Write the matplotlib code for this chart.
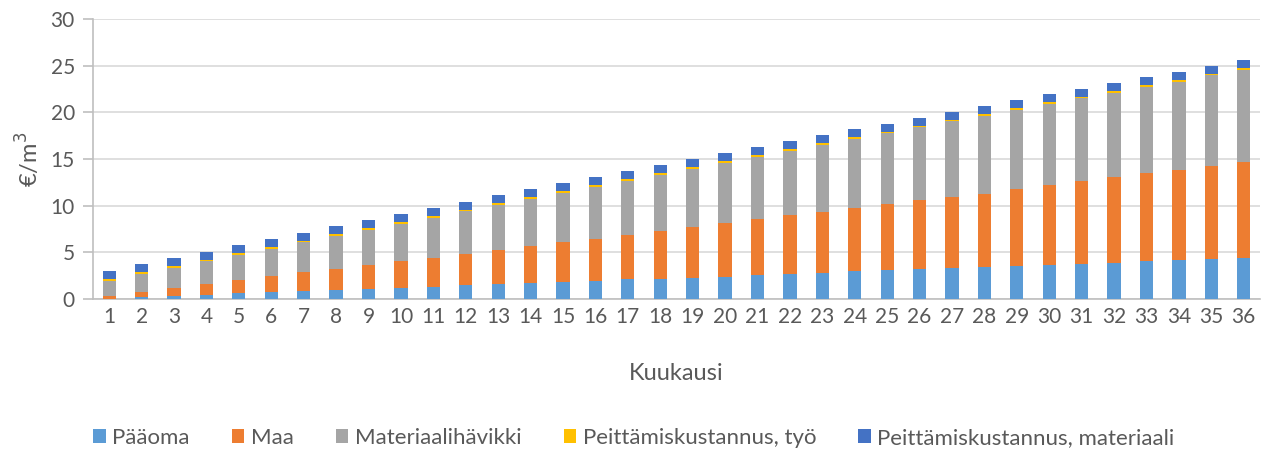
import numpy as np
import matplotlib
matplotlib.use("Agg")
import matplotlib.pyplot as plt

plt.rcParams['font.family'] = ['Lato', 'DejaVu Sans']

months = list(range(1, 37))

paaoma = [0.05, 0.25, 0.32, 0.43, 0.64, 0.75, 0.86, 0.96, 1.07, 1.21,
          1.29, 1.46, 1.57, 1.68, 1.82, 1.93, 2.11, 2.18, 2.25, 2.39,
          2.54, 2.68, 2.79, 2.96, 3.07, 3.18, 3.29, 3.39, 3.53, 3.64,
          3.78, 3.89, 4.04, 4.14, 4.29, 4.43]
maa = [0.27, 0.50, 0.82, 1.17, 1.36, 1.68, 2.00, 2.25, 2.54, 2.83,
       3.14, 3.40, 3.68, 3.96, 4.25, 4.53, 4.78, 5.14, 5.43, 5.71,
       6.00, 6.28, 6.57, 6.83, 7.11, 7.43, 7.67, 7.91, 8.22, 8.54,
       8.83, 9.15, 9.43, 9.72, 10.00, 10.25]
havikki = [1.63, 1.93, 2.22, 2.44, 2.70, 2.96, 3.21, 3.58, 3.82, 4.03,
           4.27, 4.54, 4.82, 5.06, 5.33, 5.54, 5.79, 5.98, 6.28, 6.50,
           6.71, 6.93, 7.18, 7.39, 7.57, 7.78, 8.08, 8.34, 8.54, 8.72,
           8.89, 9.06, 9.23, 9.44, 9.67, 9.86]
tyo = [0.18] * 36
materiaali = [0.86] * 36

series = [
    ("Pääoma", paaoma, "#5B9BD5"),
    ("Maa", maa, "#ED7D31"),
    ("Materiaalihävikki", havikki, "#A5A5A5"),
    ("Peittämiskustannus, työ", tyo, "#FFC000"),
    ("Peittämiskustannus, materiaali", materiaali, "#4472C4"),
]

txt = "#595959"

fig = plt.figure(figsize=(12.63, 4.53), dpi=100)
ax = fig.add_axes([0.0736, 0.34, 0.924, 0.618])

x = np.arange(len(months))
bottom = np.zeros(len(months))
for name, vals, col in series:
    ax.bar(x, vals, 0.41, bottom=bottom, color=col, label=name, zorder=3)
    bottom += np.array(vals)

ax.set_xlim(-0.5, len(months) - 0.5)
ax.set_ylim(0, 30)
ax.set_yticks(range(0, 31, 5))
ax.set_xticks(x)
ax.set_xticklabels([str(m) for m in months])
ax.yaxis.grid(True, color="#d9d9d9", linewidth=1.2, zorder=0)
ax.set_axisbelow(True)

for s in ["top", "right"]:
    ax.spines[s].set_visible(False)
ax.spines["left"].set_color("#bfbfbf")
ax.spines["bottom"].set_color("#bfbfbf")
ax.spines["left"].set_linewidth(1.2)
ax.spines["bottom"].set_linewidth(1.2)
ax.tick_params(axis="y", colors="#bfbfbf", labelcolor=txt, labelsize=15, length=7, width=1.2, pad=6)
ax.tick_params(axis="x", length=0, labelcolor=txt, labelsize=15, pad=6)

ax.set_ylabel("€/m$^3$", color=txt, fontsize=17, labelpad=6)
ax.set_xlabel("Kuukausi", color=txt, fontsize=17, labelpad=26)

leg = fig.legend(loc="center", bbox_to_anchor=(0.502, 0.033), ncol=5, frameon=False,
                 fontsize=16, handlelength=0.55, handleheight=0.55, handletextpad=0.3,
                 columnspacing=1.9)
for t in leg.get_texts():
    t.set_color(txt)

fig.savefig("out.png", dpi=100)
